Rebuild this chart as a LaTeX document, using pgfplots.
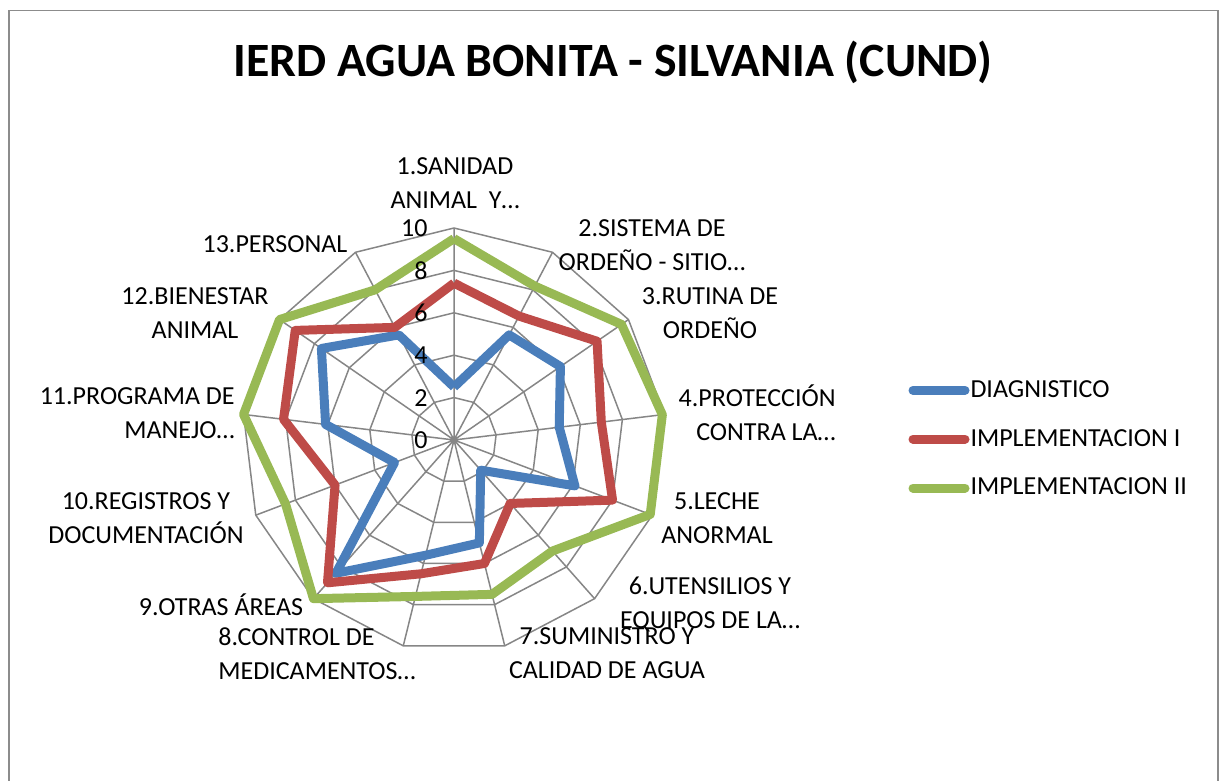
\documentclass[border=0pt]{standalone}
\usepackage{pgfplots}
\pgfplotsset{compat=1.18}
\usepackage{pgfplotstable}
\usepgfplotslibrary{polar}
\usepackage{fontspec}
\setmainfont{Carlito}
\definecolor{cdiag}{HTML}{4A7EBB}
\definecolor{cimp1}{HTML}{BE4B48}
\definecolor{cimp2}{HTML}{98B954}
\definecolor{gridc}{HTML}{868686}
\definecolor{framec}{HTML}{8C8C8C}

\pgfplotstableread{
k diag impI impII
0 2.5 7.4 9.5
1 5.6 6.6 8.2
2 6.1 8.2 9.6
3 5.0 7.0 9.9
4 6.1 8.0 9.9
5 1.9 4.0 7.0
6 5.0 6.0 7.5
7 5.6 6.5 7.6
8 8.4 9.0 10.0
9 3.0 6.0 8.5
10 6.1 8.1 10.0
11 7.6 9.1 10.0
12 5.6 6.0 8.0
13 2.5 7.4 9.5
}\datatab

\begin{document}
\begin{tikzpicture}
\useasboundingbox (0,0) rectangle (611.5pt,390.5pt);
\begin{scope}[x=0.5pt,y=-0.5pt,yshift=390.5pt]
\draw[framec, line width=0.9pt] (9,800) -- (9,10.5) -- (1218,10.5) -- (1218,800);
\node[font=\fontsize{23.9}{28}\selectfont\bfseries] at (613,62) {IERD AGUA BONITA - SILVANIA (CUND)};
\end{scope}

\begin{polaraxis}[
  at={(227pt,170.5pt)}, anchor=center,
  scale only axis, width=212pt, height=212pt,
  ymin=0, ymax=10,
  xtick={90,62.3077,34.6154,6.9231,339.2308,311.5385,283.8462,256.1538,228.4615,200.7692,173.0769,145.3846,117.6923},
  xticklabels={}, ytick=\empty, yticklabels={},
  xmajorgrids=true, ymajorgrids=false,
  major grid style={gridc, line width=0.75pt},
  axis line style={draw=none},
  major tick length=0pt,
  clip=false,
  legend style={at={(1.571,0.502)}, anchor=west, draw=none, fill=none,
    row sep=13.5pt, font=\fontsize{13}{16}\selectfont, inner sep=0pt,
    nodes={inner sep=0.5pt}},
  legend cell align=left,
  legend image code/.code={\draw[#1, line cap=round] (0pt,0pt) -- (26pt,0pt);},
]
\pgfplotsinvokeforeach{2,4,6,8,10}{
  \addplot[gridc, line width=0.75pt, forget plot] table[x expr=90-\thisrow{k}*360/13, y expr=#1] {\datatab};
}
\addplot[cdiag, line width=4.5pt, line join=round] table[x expr=90-\thisrow{k}*360/13, y=diag] {\datatab};
\addlegendentry{DIAGNISTICO}
\addplot[cimp1, line width=4.5pt, line join=round] table[x expr=90-\thisrow{k}*360/13, y=impI] {\datatab};
\addlegendentry{IMPLEMENTACION I}
\addplot[cimp2, line width=4.5pt, line join=round] table[x expr=90-\thisrow{k}*360/13, y=impII] {\datatab};
\addlegendentry{IMPLEMENTACION II}
\end{polaraxis}

\begin{scope}[x=0.5pt,y=-0.5pt,yshift=390.5pt, font=\fontsize{13}{17}\selectfont]
\node[anchor=east, inner sep=0pt] at (428,228) {10};
\node[anchor=east, inner sep=0pt] at (428,270.4) {8};
\node[anchor=east, inner sep=0pt] at (428,312.8) {6};
\node[anchor=east, inner sep=0pt] at (428,355.2) {4};
\node[anchor=east, inner sep=0pt] at (428,397.6) {2};
\node[anchor=east, inner sep=0pt] at (428,440) {0};
\node[align=center, inner sep=0pt] at (455,183) {1.SANIDAD\\ANIMAL \ Y…};
\node[align=center, inner sep=0pt] at (652,245) {2.SISTEMA DE\\ORDEÑO - SITIO…};
\node[align=center, inner sep=0pt] at (710,313) {3.RUTINA DE\\ORDEÑO};
\node[align=right, inner sep=0pt, anchor=east] at (836,413) {4.PROTECCIÓN\\CONTRA LA…};
\node[align=center, inner sep=0pt] at (717,518) {5.LECHE\\ANORMAL};
\node[align=center, inner sep=0pt] at (710,604) {6.UTENSILIOS Y\\EQUIPOS DE LA…};
\node[align=center, inner sep=0pt] at (607,653) {7.SUMINISTRO Y\\CALIDAD DE AGUA};
\node[align=left, inner sep=0pt, anchor=west] at (218,654) {8.CONTROL DE\\MEDICAMENTOS…};
\node[inner sep=0pt] at (221,605) {9.OTRAS ÁREAS};
\node[align=center, inner sep=0pt] at (146,518) {10.REGISTROS Y\\DOCUMENTACIÓN};
\node[align=right, inner sep=0pt, anchor=east] at (235,413) {11.PROGRAMA DE\\MANEJO…};
\node[align=center, inner sep=0pt] at (195,313) {12.BIENESTAR\\ANIMAL};
\node[inner sep=0pt] at (275,244) {13.PERSONAL};
\end{scope}
\end{tikzpicture}
\end{document}
